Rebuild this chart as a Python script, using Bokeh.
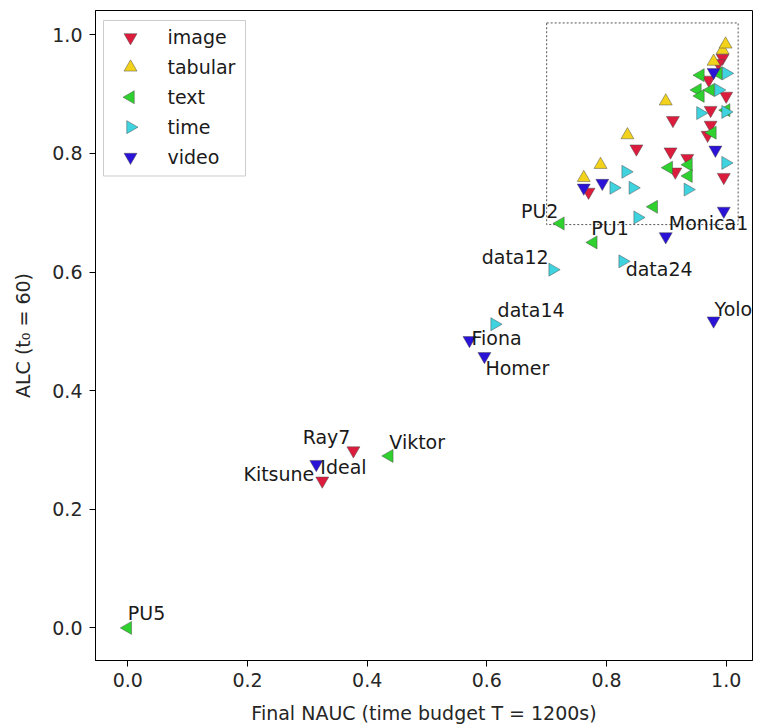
import math
from bokeh.plotting import figure
from bokeh.models import Range1d, ColumnDataSource, FixedTicker, PrintfTickFormatter
from bokeh.core.properties import value
from bokeh.embed import file_html
from bokeh.resources import INLINE

# ---- data ----
image_x = [0.325, 0.377, 0.770, 0.850, 0.911, 0.907, 0.915, 0.935, 0.969, 0.974, 0.974, 1.000, 0.996, 0.994, 0.987, 0.971]
image_y = [0.248, 0.299, 0.735, 0.808, 0.856, 0.803, 0.769, 0.792, 0.831, 0.848, 0.873, 0.897, 0.760, 0.961, 0.952, 0.924]

tabular_x = [0.762, 0.790, 0.835, 0.899, 0.979, 0.994, 0.999]
tabular_y = [0.759, 0.781, 0.831, 0.888, 0.955, 0.974, 0.984]

text_x = [0.000, 0.437, 0.723, 0.778, 0.879, 0.904, 0.937, 0.937, 0.977, 0.957, 0.952, 0.957, 0.974, 1.000, 0.987]
text_y = [0.000, 0.290, 0.682, 0.650, 0.710, 0.776, 0.781, 0.762, 0.835, 0.932, 0.907, 0.897, 0.907, 0.873, 0.935]

time_x = [0.710, 0.827, 0.613, 0.812, 0.844, 0.832, 0.852, 0.936, 0.999, 0.957, 0.999, 1.000, 0.987]
time_y = [0.604, 0.618, 0.512, 0.742, 0.742, 0.769, 0.692, 0.739, 0.784, 0.868, 0.870, 0.935, 0.907]

video_x = [0.315, 0.571, 0.596, 0.979, 0.899, 0.762, 0.793, 0.982, 0.996, 0.979]
video_y = [0.276, 0.485, 0.458, 0.518, 0.660, 0.742, 0.750, 0.806, 0.703, 0.937]

label_names = ["PU5", "Kitsune", "Ideal", "Ray7", "Viktor", "Fiona", "Homer", "data14",
               "data12", "data24", "PU2", "PU1", "Monica1", "Yolo"]
label_x = [0.000, 0.315, 0.325, 0.377, 0.437, 0.571, 0.596, 0.613, 0.710, 0.827, 0.723, 0.778, 0.899, 0.979]
label_y = [0.000, 0.276, 0.248, 0.299, 0.290, 0.485, 0.458, 0.512, 0.604, 0.618, 0.682, 0.650, 0.660, 0.518]

categories = ["image", "tabular", "text", "time", "video"]

zoom_box = [0.70, 1.02, 0.68, 1.02]  # left, right, bottom, top

x_ticks = [0.0, 0.2, 0.4, 0.6, 0.8, 1.0]
y_ticks = [0.0, 0.2, 0.4, 0.6, 0.8, 1.0]

# ---- styling / layout ----
label_style = {
    "PU5": (0, -15, "left"),
    "Kitsune": (-2, 10, "right"),
    "Ideal": (-2, -14, "left"),
    "Ray7": (-3, -14, "right"),
    "Viktor": (0, -14, "left"),
    "Fiona": (2, -2, "left"),
    "Homer": (1, 12, "left"),
    "data14": (3, -14, "left"),
    "data12": (-4, -13, "right"),
    "data24": (3, 8, "left"),
    "PU2": (-2, -12, "right"),
    "PU1": (-2, -14, "left"),
    "Monica1": (3, -13, "left"),
    "Yolo": (1, -12, "left"),
}
cat_style = {
    "image": ("#dc1c3c", "inverted_triangle", 0.0),
    "tabular": ("#f2d21b", "triangle", 0.0),
    "text": ("#2fd12f", "triangle", math.pi / 2),
    "time": ("#3fd3e0", "triangle", -math.pi / 2),
    "video": ("#2a12d6", "inverted_triangle", 0.0),
}
cat_data = {
    "image": (image_x, image_y),
    "tabular": (tabular_x, tabular_y),
    "text": (text_x, text_y),
    "time": (time_x, time_y),
    "video": (video_x, video_y),
}

FONT = "DejaVu Sans"
FS = "19px"
SIZE = 13
FRAME_W, FRAME_H = 657, 652

p = figure(width=758, height=726, output_backend="svg", toolbar_location=None,
           x_range=Range1d(-0.054, 1.044), y_range=Range1d(-0.055, 1.041),
           min_border_left=95, min_border_right=6, min_border_top=10, min_border_bottom=64)
p.extra_x_ranges = {"px": Range1d(0, FRAME_W)}
p.extra_y_ranges = {"py": Range1d(FRAME_H, 0)}
p.xgrid.visible = False
p.ygrid.visible = False
p.outline_line_color = "black"
p.outline_line_width = 1
p.background_fill_color = "white"

for ax in (p.xaxis[0], p.yaxis[0]):
    ax.major_label_text_font = FONT
    ax.major_label_text_font_size = FS
    ax.major_label_text_color = "#262626"
    ax.axis_label_text_font = FONT
    ax.axis_label_text_font_size = FS
    ax.axis_label_text_font_style = "normal"
    ax.axis_label_text_color = "#262626"
    ax.minor_tick_line_color = None
    ax.major_tick_in = 0
    ax.major_tick_out = 6
    ax.major_tick_line_color = "black"
    ax.axis_line_color = "black"
    ax.formatter = PrintfTickFormatter(format="%.1f")

p.xaxis.ticker = FixedTicker(ticks=x_ticks)
p.yaxis.ticker = FixedTicker(ticks=y_ticks)
p.xaxis.major_label_standoff = 6
p.yaxis.major_label_standoff = 7
p.xaxis.axis_label = "Final NAUC (time budget T = 1200s)"
p.yaxis.axis_label = "ALC (t\u2080 = 60)"
p.xaxis.axis_label_standoff = 12
p.yaxis.axis_label_standoff = 15

# dashed zoom box
p.quad(left=[zoom_box[0]], right=[zoom_box[1]], bottom=[zoom_box[2]], top=[zoom_box[3]],
       fill_color=None, line_color="#555555", line_dash="2 2", line_width=1)

for name in categories:
    xs, ys = cat_data[name]
    col, mk, ang = cat_style[name]
    src = ColumnDataSource(dict(x=xs, y=ys))
    p.scatter("x", "y", source=src, marker=mk, angle=ang, size=SIZE,
              fill_color=col, fill_alpha=1.0, line_color="#4a4a4a", line_width=0.6,
              line_alpha=0.8)

# point labels
for name, lx, ly in zip(label_names, label_x, label_y):
    dx, dy, al = label_style[name]
    p.text(x=[lx], y=[ly], text=[name], x_offset=dx, y_offset=dy,
           text_align=al, text_baseline="middle", text_font=value(FONT),
           text_font_size=FS, text_color="#1a1a1a")

# legend (drawn in frame pixel coordinates so that rotated markers show correctly)
LG_LEFT, LG_TOP, LG_RIGHT, LG_BOTTOM = 8, 10, 150, 166
ROW0, ROW_STEP, MK_X, LBL_X = 27, 30, 35, 72
p.quad(left=[LG_LEFT], right=[LG_RIGHT], top=[LG_TOP], bottom=[LG_BOTTOM],
       x_range_name="px", y_range_name="py", fill_color="white", fill_alpha=0.85,
       line_color="#cccccc", line_width=1, level="overlay")
for i, name in enumerate(categories):
    col, mk, ang = cat_style[name]
    yy = ROW0 + i * ROW_STEP
    p.scatter(x=[MK_X], y=[yy], marker=mk, angle=ang, size=SIZE,
              x_range_name="px", y_range_name="py", fill_color=col,
              line_color="#4a4a4a", line_width=0.6, line_alpha=0.8, level="overlay")
    p.text(x=[LBL_X], y=[yy], text=[name], x_range_name="px", y_range_name="py",
           text_align="left", text_baseline="middle", text_font=value(FONT),
           text_font_size=FS, text_color="#1a1a1a", level="overlay")

open("out.html", "w").write(file_html(p, INLINE))
